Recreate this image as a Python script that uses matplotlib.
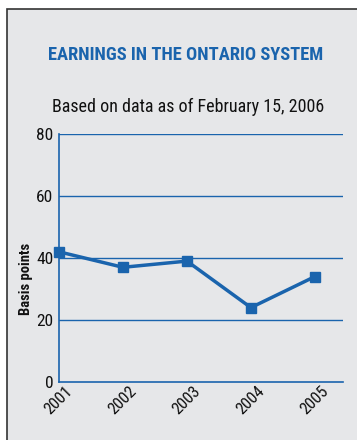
import matplotlib.pyplot as plt
from matplotlib.patches import Rectangle

years = ['2001', '2002', '2003', '2004', '2005']
basis_points = [42, 37, 39, 24, 34]
y_ticks = [0, 20, 40, 60, 80]

blue = '#1a64ad'
bg = '#e6e7e9'
narrow = ['Roboto Condensed', 'DejaVu Sans']

fig = plt.figure(figsize=(3.57, 4.40), dpi=100)
fig.patch.set_facecolor('white')

# grey panel with a dark frame on the left and top
panel = Rectangle((7 / 357, -0.05), 1.0, 1 - 9 / 440 + 0.05,
                  transform=fig.transFigure, facecolor=bg,
                  edgecolor='#333333', linewidth=1.2, zorder=-10)
fig.patches.append(panel)

fig.text(186 / 357, 1 - 55 / 440, 'EARNINGS IN THE ONTARIO SYSTEM', color=blue,
         fontsize=13.3, fontweight='bold', family=narrow, ha='center', va='center')
fig.text(188 / 357, 1 - 107 / 440, 'Based on data as of February 15, 2006', color='#111111',
         fontsize=13, family=narrow, ha='center', va='center')

ax = fig.add_axes([59 / 357, 1 - 382 / 440, (343 - 59) / 357, (382 - 134) / 440])
ax.set_facecolor(bg)
x = list(range(len(years)))
ax.plot(x, basis_points, color=blue, linewidth=2.5, marker='s', markersize=6.5,
        clip_on=False, zorder=3)

ax.set_xlim(0, 4.44)
ax.set_ylim(0, 80)
ax.set_yticks(y_ticks)
ax.set_yticklabels([str(v) for v in y_ticks], family=narrow, fontsize=12.5, color='#111111')
ax.set_xticks(x)
ax.set_xticklabels(years, rotation=45, ha='center', va='top', color='#111111',
                   family=narrow, fontsize=12)
ax.tick_params(length=0, pad=4)
ax.tick_params(axis='x', pad=1)
for v in y_ticks[1:]:
    ax.axhline(v, color=blue, linewidth=1, zorder=1)
for side in ['top', 'right']:
    ax.spines[side].set_visible(False)
for side in ['left', 'bottom']:
    ax.spines[side].set_color(blue)
    ax.spines[side].set_linewidth(1.2)

ax.set_ylabel('Basis points', family=narrow, fontsize=10.5, fontweight='bold', color='#111111')
ax.yaxis.set_label_coords(-26 / 284, (382 - 279) / 248)

fig.savefig('out.png', dpi=100, facecolor=fig.get_facecolor())
